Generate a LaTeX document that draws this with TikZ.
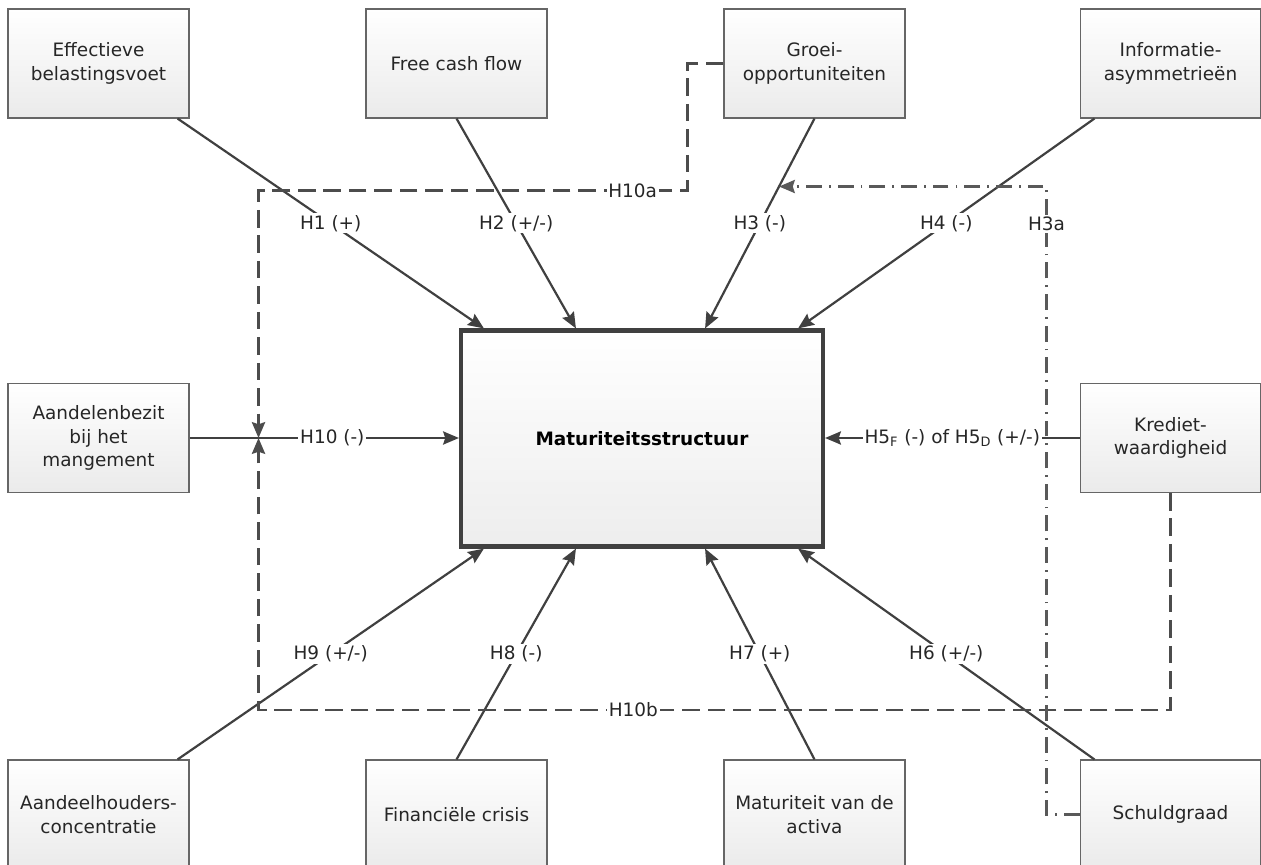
\documentclass[tikz,border=0pt]{standalone}
\usepackage{fontspec}
\setmainfont{DejaVu Sans}
\usetikzlibrary{calc,arrows.meta}
\begin{document}
\begin{tikzpicture}[>={Stealth[length=9pt,width=7.5pt,inset=1.2pt]},x=0.02cm,y=-0.02cm,
  box/.style={draw=black!60,line width=0.6pt,top color=white,bottom color=black!8,
    minimum width=3.62cm,minimum height=2.18cm,inner sep=0pt,align=center,
    text=black!85,font=\fontsize{10.5}{13.5}\selectfont},
  mainbox/.style={draw=black!75,line width=2.4pt,top color=white,bottom color=black!7,
    minimum width=7.24cm,minimum height=4.32cm,inner sep=0pt,
    font=\fontsize{10.5}{13}\selectfont\bfseries},
  lbl/.style={fill=white,inner sep=1pt,text=black!85,font=\fontsize{10.5}{12}\selectfont},
  hyp/.style={draw=black!75,line width=1.25pt},
  dsh/.style={draw=black!70,line width=1.4pt,dash pattern=on 10pt off 4.5pt},
  dshdot/.style={draw=black!65,line width=1.3pt,dash pattern=on 9pt off 4pt on 1pt off 4pt}]
\useasboundingbox (0,0) rectangle (1261,865);
\def\xa{98.5}
\def\xb{456.5}
\def\xc{814.5}
\def\xd{1170.5}
\coordinate (t1) at (\xa,63.5);
\coordinate (t2) at (\xb,63.5);
\coordinate (t3) at (\xc,63.5);
\coordinate (t4) at (\xd,63.5);
\coordinate (m1) at (\xa,438);
\coordinate (m2) at (642,438.5);
\coordinate (m3) at (\xd,438);
\coordinate (b1) at (\xa,814.5);
\coordinate (b2) at (\xb,814.5);
\coordinate (b3) at (\xc,814.5);
\coordinate (b4) at (\xd,814.5);
\node[box] (eff) at (t1) {Effectieve\\belastingsvoet};
\node[box] (fcf) at (t2) {Free cash flow};
\node[box] (gro) at (t3) {Groei-\\opportuniteiten};
\node[box] (inf) at (t4) {Informatie-\\asymmetrieën};
\node[box] (aan) at (m1) {Aandelenbezit\\bij het\\mangement};
\node[mainbox] (mat) at (m2) {Maturiteitsstructuur};
\node[box] (kre) at (m3) {Krediet-\\waardigheid};
\node[box] (ahc) at (b1) {Aandeelhouders-\\concentratie};
\node[box] (fin) at (b2) {Financiële crisis};
\node[box] (mva) at (b3) {Maturiteit van de\\activa};
\node[box] (sch) at (b4) {Schuldgraad};
\coordinate (h1s) at ($(eff.south east)+(-12,0)$);
\coordinate (h1e) at ($(mat.north west)+(25,0)$);
\coordinate (h2e) at ($(mat.north west)+(117,0)$);
\coordinate (h3e) at ($(mat.north east)+(-120,0)$);
\coordinate (h4s) at ($(inf.south west)+(15,0)$);
\coordinate (h4e) at ($(mat.north east)+(-27,0)$);
\coordinate (h9s) at ($(ahc.north east)+(-12,0)$);
\coordinate (h9e) at ($(mat.south west)+(25,0)$);
\coordinate (h8e) at ($(mat.south west)+(117,0)$);
\coordinate (h7e) at ($(mat.south east)+(-120,0)$);
\coordinate (h6s) at ($(sch.north west)+(15,0)$);
\coordinate (h6e) at ($(mat.south east)+(-27,0)$);
\coordinate (h10) at ($(aan.east)+(69,0)$);
\coordinate (h3a) at ($(gro.south)!0.324!(h3e)$);
\draw[hyp,->] (h1s) -- node[lbl]{H1 (+)} (h1e);
\draw[hyp,->] (fcf.south) -- node[lbl]{H2 (+/-)} (h2e);
\draw[hyp,->] (gro.south) -- node[lbl]{H3 (-)} (h3e);
\draw[hyp,->] (h4s) -- node[lbl]{H4 (-)} (h4e);
\draw[hyp,->] (aan.east) -- node[lbl,pos=0.53]{H10 (-)} (aan.east -| mat.west);
\draw[hyp,->] (kre.west) -- node[lbl]{H5\textsubscript{F} (-) of H5\textsubscript{D} (+/-)} (kre.west -| mat.east);
\draw[hyp,->] (h9s) -- node[lbl]{H9 (+/-)} (h9e);
\draw[hyp,->] (fin.north) -- node[lbl]{H8 (-)} (h8e);
\draw[hyp,->] (mva.north) -- node[lbl]{H7 (+)} (h7e);
\draw[hyp,->] (h6s) -- node[lbl]{H6 (+/-)} (h6e);
\draw[dsh,->] (gro.west) -- ++(-36,0) -- ++(0,127) coordinate (a1)
  -- node[lbl,pos=0.128]{H10a} (a1 -| h10) -- (h10);
\draw[dsh,->] (kre.south) -- ++(0,217) coordinate (a2)
  -- node[lbl,pos=0.589]{H10b} (a2 -| h10) -- (h10);
\draw[dshdot,->] (sch.west) -- ++(-33,0) coordinate (a3)
  -- node[lbl,pos=0.94]{H3a} (a3 |- h3a) -- (h3a);
\end{tikzpicture}
\end{document}
